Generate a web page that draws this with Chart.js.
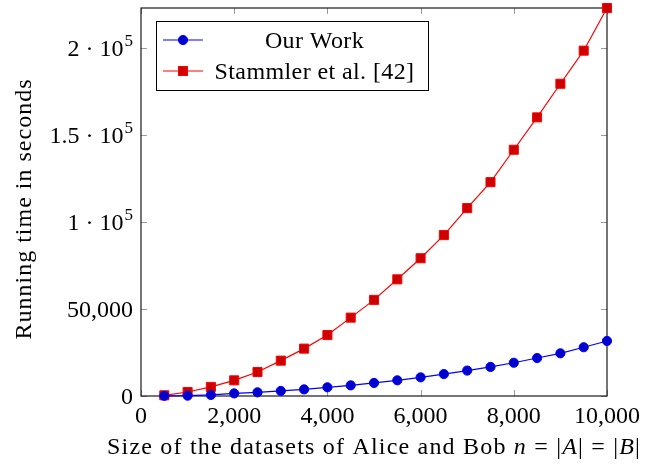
<!DOCTYPE html>
<html>
<head>
<meta charset="utf-8">
<script src="https://cdn.jsdelivr.net/npm/chart.js@4/dist/chart.umd.min.js"></script>
<style>
  html, body { margin: 0; padding: 0; background: #fff; }
  #wrap { width: 660px; height: 464px; }
</style>
</head>
<body>
<div id="wrap"><canvas id="runtimeChart" width="660" height="464"></canvas></div>
<script>
// dataset sizes n and running times (seconds)
var sizes = [500, 1000, 1500, 2000, 2500, 3000, 3500, 4000, 4500, 5000,
             5500, 6000, 6500, 7000, 7500, 8000, 8500, 9000, 9500, 10000];
var ourWork = [100, 200, 600, 1500, 2100, 2900, 3800, 5000, 6100, 7500,
               9000, 10700, 12600, 14600, 16700, 19100, 21800, 24500, 28000, 31600];
var stammler = [400, 2300, 5200, 9000, 13800, 20300, 27200, 35000, 45000, 55200,
                67000, 79100, 92400, 107900, 122800, 141400, 160000, 179300, 198300, 222800];

var seriesNames = ['Our Work', 'Stammler et al. [42]'];

var xTicks = [0, 2000, 4000, 6000, 8000, 10000];
var xTickLabels = ['0', '2,000', '4,000', '6,000', '8,000', '10,000'];
var yTicks = [0, 50000, 100000, 150000, 200000];
var yTickLabels = ['0', '50,000', '1 · 10^5', '1.5 · 10^5', '2 · 10^5'];

var xTitle = ['Size of the datasets of Alice and Bob ', 'n', ' = |', 'A', '| = |', 'B', '|'];
var yTitle = 'Running time in seconds';

var FONT = '"Liberation Serif", "DejaVu Serif", serif';
var FS = 24;

function toPoints(ys) {
    return sizes.map(function(x, i) { return { x: x, y: ys[i] }; });
}

function drawMark(ctx, kind, x, y) {
    ctx.save();
    ctx.lineWidth = 1;
    if (kind == 'circle') {
        ctx.fillStyle = '#0000cc';
        ctx.strokeStyle = '#0000ff';
        ctx.beginPath();
        ctx.arc(x, y, 4.6, 0, Math.PI * 2);
        ctx.fill();
        ctx.stroke();
    } else {
        ctx.fillStyle = '#cc0000';
        ctx.strokeStyle = '#ff0000';
        ctx.fillRect(x - 4.5, y - 4.5, 9, 9);
        ctx.strokeRect(x - 4.5, y - 4.5, 9, 9);
    }
    ctx.restore();
}

// label like "2 · 10^5" -> base text with raised exponent, right aligned at x
function drawTickLabel(ctx, label, x, y) {
    var parts = label.split('^');
    ctx.textBaseline = 'alphabetic';
    ctx.textAlign = 'left';
    ctx.font = FS + 'px ' + FONT;
    var w0 = ctx.measureText(parts[0]).width;
    var w1 = 0;
    if (parts.length > 1) {
        ctx.font = Math.round(FS * 0.72) + 'px ' + FONT;
        w1 = ctx.measureText(parts[1]).width + 1;
    }
    var left = x - w0 - w1;
    ctx.font = FS + 'px ' + FONT;
    ctx.fillText(parts[0], left, y + 8);
    if (parts.length > 1) {
        ctx.font = Math.round(FS * 0.72) + 'px ' + FONT;
        ctx.fillText(parts[1], left + w0 + 1, y - 2);
    }
}

var texAxis = {
    id: 'texAxis',
    beforeDatasetsDraw: function(chart) {
        var ctx = chart.ctx, a = chart.chartArea;
        var xs = chart.scales.x, ys = chart.scales.y;
        ctx.save();
        // tick marks on all four sides, pointing inwards
        ctx.strokeStyle = '#9a9a9a';
        ctx.lineWidth = 1;
        ctx.beginPath();
        xTicks.forEach(function(v) {
            var px = Math.round(xs.getPixelForValue(v)) + 0.5;
            ctx.moveTo(px, a.bottom); ctx.lineTo(px, a.bottom - 6);
            ctx.moveTo(px, a.top); ctx.lineTo(px, a.top + 6);
        });
        yTicks.forEach(function(v) {
            var py = Math.round(ys.getPixelForValue(v)) + 0.5;
            ctx.moveTo(a.left, py); ctx.lineTo(a.left + 6, py);
            ctx.moveTo(a.right, py); ctx.lineTo(a.right - 6, py);
        });
        ctx.stroke();
        ctx.strokeStyle = '#1a1a1a';
        ctx.lineWidth = 1.2;
        ctx.strokeRect(a.left, a.top, a.right - a.left, a.bottom - a.top);
        ctx.restore();
    },
    afterDraw: function(chart) {
        var ctx = chart.ctx, a = chart.chartArea;
        var xs = chart.scales.x, ys = chart.scales.y;
        ctx.save();
        ctx.fillStyle = '#000';

        // x tick labels
        ctx.font = FS + 'px ' + FONT;
        ctx.textAlign = 'center';
        ctx.textBaseline = 'alphabetic';
        xTicks.forEach(function(v, i) {
            ctx.fillText(xTickLabels[i], xs.getPixelForValue(v), a.bottom + 27);
        });

        // y tick labels
        yTicks.forEach(function(v, i) {
            drawTickLabel(ctx, yTickLabels[i], a.left - 8, ys.getPixelForValue(v));
        });

        // x title, italic math letters (computer modern runs wider, so space it out)
        ctx.letterSpacing = '1.2px';
        var widths = [], total = 0;
        xTitle.forEach(function(t, i) {
            ctx.font = (i % 2 == 1 ? 'italic ' : '') + FS + 'px ' + FONT;
            var w = ctx.measureText(t).width;
            widths.push(w);
            total += w;
        });
        var tx = 374 - total / 2;
        ctx.textAlign = 'left';
        xTitle.forEach(function(t, i) {
            ctx.font = (i % 2 == 1 ? 'italic ' : '') + FS + 'px ' + FONT;
            ctx.fillText(t, tx, 454);
            tx += widths[i];
        });

        // y title
        ctx.save();
        ctx.letterSpacing = '1px';
        ctx.translate(31, 209);
        ctx.rotate(-Math.PI / 2);
        ctx.font = FS + 'px ' + FONT;
        ctx.textAlign = 'center';
        ctx.fillText(yTitle, 0, 0);
        ctx.restore();

        // legend box
        ctx.letterSpacing = '0.4px';
        ctx.font = FS + 'px ' + FONT;
        var bx = 156, by = 21, bw = 272, bh = 69;
        var cellLeft = 209, cellRight = 420;
        ctx.fillStyle = '#fff';
        ctx.fillRect(bx, by, bw, bh);
        ctx.strokeStyle = '#000';
        ctx.lineWidth = 1;
        ctx.strokeRect(bx + 0.5, by + 0.5, bw, bh);
        var rows = [40, 71];
        var colors = ['#0000ff', '#ff0000'];
        var marks = ['circle', 'square'];
        rows.forEach(function(ry, i) {
            ctx.strokeStyle = colors[i];
            ctx.lineWidth = 1.2;
            ctx.beginPath();
            ctx.moveTo(163, ry); ctx.lineTo(203, ry);
            ctx.stroke();
            drawMark(ctx, marks[i], 183, ry);
            ctx.fillStyle = '#000';
            ctx.textAlign = 'center';
            ctx.fillText(seriesNames[i], (cellLeft + cellRight) / 2, ry + 8);
        });
        ctx.restore();
    }
};

new Chart(document.getElementById('runtimeChart'), {
    type: 'line',
    data: {
        datasets: [{
            label: seriesNames[0],
            data: toPoints(ourWork),
            borderColor: '#0000ff',
            backgroundColor: '#0000cc',
            pointBorderColor: '#0000ff',
            pointBackgroundColor: '#0000cc',
            pointStyle: 'circle',
            pointRadius: 4.6,
            pointBorderWidth: 1,
            borderWidth: 1.2,
            clip: false
        }, {
            label: seriesNames[1],
            data: toPoints(stammler),
            borderColor: '#ff0000',
            backgroundColor: '#cc0000',
            pointBorderColor: '#ff0000',
            pointBackgroundColor: '#cc0000',
            pointStyle: 'rect',
            pointRadius: 6.4,
            pointBorderWidth: 1,
            borderWidth: 1.2,
            clip: false
        }]
    },
    options: {
        responsive: false,
        animation: false,
        layout: { padding: { left: 141, right: 53, top: 8, bottom: 68 } },
        plugins: { legend: { display: false }, tooltip: { enabled: false } },
        scales: {
            x: { type: 'linear', display: false, min: 0, max: 10000 },
            y: { type: 'linear', display: false, min: 0, max: stammler[stammler.length - 1] }
        }
    },
    plugins: [texAxis]
});
</script>
</body>
</html>
